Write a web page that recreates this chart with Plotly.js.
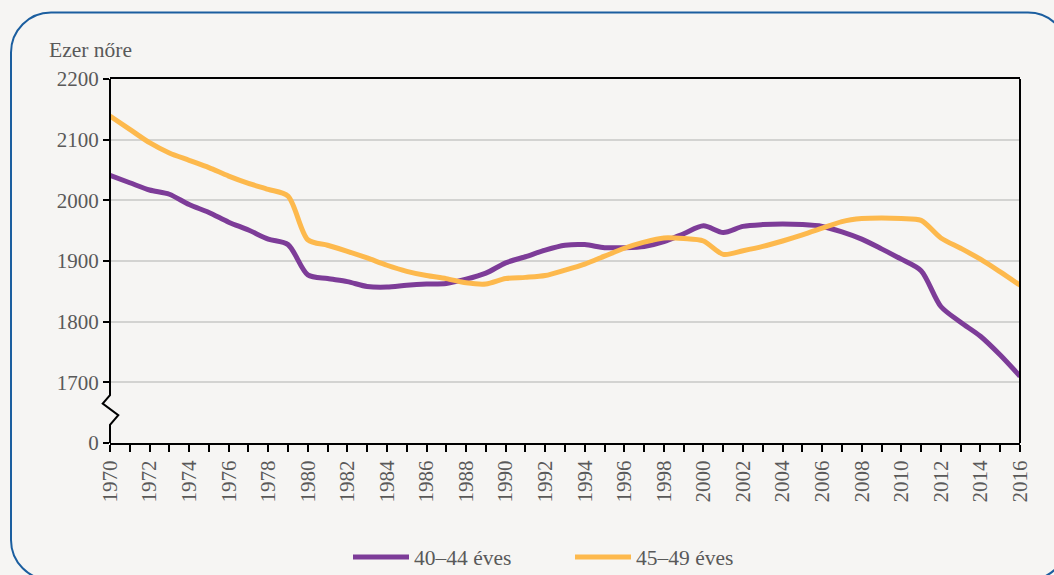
<!DOCTYPE html>
<html>
<head>
<meta charset="utf-8">
<script src="https://cdn.plot.ly/plotly-3.0.1.min.js"></script>
<style>
html,body{margin:0;padding:0;background:#f6f5f3;}
#chart{width:1054px;height:575px;}
</style>
</head>
<body>
<div id="chart"></div>
<script>
const years = [1970,1971,1972,1973,1974,1975,1976,1977,1978,1979,
  1980,1981,1982,1983,1984,1985,1986,1987,1988,1989,
  1990,1991,1992,1993,1994,1995,1996,1997,1998,1999,
  2000,2001,2002,2003,2004,2005,2006,2007,2008,2009,
  2010,2011,2012,2013,2014,2015,2016];

const age4044 = [2041,2029,2017,2010,1993,1980,1964,1951,1936,1927,
  1877,1871,1866,1858,1857,1860,1862,1863,1870,1880,
  1897,1907,1918,1926,1927,1922,1922,1924,1932,1945,
  1958,1947,1957,1960,1961,1960,1957,1948,1936,1920,
  1903,1884,1825,1799,1776,1745,1710];

const age4549 = [2139,2117,2095,2078,2066,2054,2040,2028,2018,2007,
  1935,1926,1916,1905,1893,1883,1876,1871,1864,1862,
  1871,1873,1876,1885,1895,1908,1921,1931,1938,1937,
  1933,1911,1917,1924,1933,1943,1954,1965,1970,1971,
  1970,1967,1938,1921,1903,1882,1860];

const seriesNames = ['40–44 éves', '45–49 éves'];
const yTickVals = [1600,1700,1800,1900,2000,2100,2200];
const yTickText = ['0','1700','1800','1900','2000','2100','2200'];
const xTickText = years.map(y => (y % 2 === 0 ? String(y) : ''));

// layout geometry (pixels)
const W = 1054, H = 575, L = 110, R = 34, T = 79, B = 132;
const pw = W - L - R, ph = H - T - B;
const px = p => (p - L) / pw;
const py = p => (H - B - p) / ph;

function roundRect(x0, y0, x1, y1, r) {
  const k = 0.5523 * r;
  const P = (a, b) => px(a).toFixed(5) + ',' + py(b).toFixed(5);
  return 'M' + P(x0 + r, y0) +
    ' L' + P(x1 - r, y0) +
    ' C' + P(x1 - r + k, y0) + ' ' + P(x1, y0 + r - k) + ' ' + P(x1, y0 + r) +
    ' L' + P(x1, y1 - r) +
    ' C' + P(x1, y1 - r + k) + ' ' + P(x1 - r + k, y1) + ' ' + P(x1 - r, y1) +
    ' L' + P(x0 + r, y1) +
    ' C' + P(x0 + r - k, y1) + ' ' + P(x0, y1 - r + k) + ' ' + P(x0, y1 - r) +
    ' L' + P(x0, y0 + r) +
    ' C' + P(x0, y0 + r - k) + ' ' + P(x0 + r - k, y0) + ' ' + P(x0 + r, y0) + ' Z';
}

const font = 'Liberation Serif, Times New Roman, serif';
const txtColor = '#595959';

const traces = [
  {x: years, y: age4044, name: seriesNames[0], type: 'scatter', mode: 'lines',
   line: {color: '#7d3c98', width: 5, shape: 'spline', smoothing: 0.8}},
  {x: years, y: age4549, name: seriesNames[1], type: 'scatter', mode: 'lines',
   line: {color: '#fdb94d', width: 5, shape: 'spline', smoothing: 0.8}}
];

// left axis with break (paper x, data y)
const brk = 'M0,2200 L0,1679 L' + px(102.7).toFixed(5) + ',1665 L' + px(118.3).toFixed(5) +
  ',1646 L0,1630 L0,1600';

const layout = {
  width: W, height: H,
  margin: {l: L, r: R, t: T, b: B, autoexpand: false},
  paper_bgcolor: '#f6f5f3',
  plot_bgcolor: '#f6f5f3',
  font: {family: font, size: 21, color: txtColor},
  showlegend: true,
  legend: {orientation: 'h', x: px(348), xanchor: 'left', y: py(557), yanchor: 'middle',
    font: {family: font, size: 21.5, color: txtColor}, itemwidth: 56, entrywidth: 151,
    tracegroupgap: 0, bgcolor: 'rgba(0,0,0,0)'},
  xaxis: {
    range: [1970, 2016], tickvals: years, ticktext: xTickText, tickangle: -90,
    ticks: 'outside', ticklen: 7, tickwidth: 2, tickcolor: '#000',
    showline: true, linecolor: '#000', linewidth: 2, mirror: true,
    showgrid: false, zeroline: false, automargin: false,
    tickfont: {family: font, size: 21, color: txtColor}
  },
  yaxis: {
    range: [1600, 2200], tickvals: yTickVals, ticktext: yTickText,
    ticks: 'outside', ticklen: 6, tickwidth: 2, tickcolor: '#000',
    showline: false, showgrid: true, gridcolor: '#d3d3d1', gridwidth: 2,
    zeroline: false, automargin: false,
    tickfont: {family: font, size: 21, color: txtColor}
  },
  shapes: [
    {type: 'path', xref: 'paper', yref: 'y', path: brk, line: {color: '#000', width: 2}},
    {type: 'line', xref: 'paper', yref: 'y', x0: 1, x1: 1, y0: 1600, y1: 2200,
     line: {color: '#000', width: 2}},
    {type: 'path', xref: 'paper', yref: 'paper', path: roundRect(11, 12.5, 1068, 580, 40),
     line: {color: '#1b5e9f', width: 2}}
  ],
  annotations: [
    {text: 'Ezer nőre', xref: 'paper', yref: 'paper', x: px(47), y: py(50),
     xanchor: 'left', yanchor: 'middle', showarrow: false,
     font: {family: font, size: 21.5, color: txtColor}}
  ]
};

Plotly.newPlot('chart', traces, layout, {displayModeBar: false, staticPlot: true});
</script>
</body>
</html>
